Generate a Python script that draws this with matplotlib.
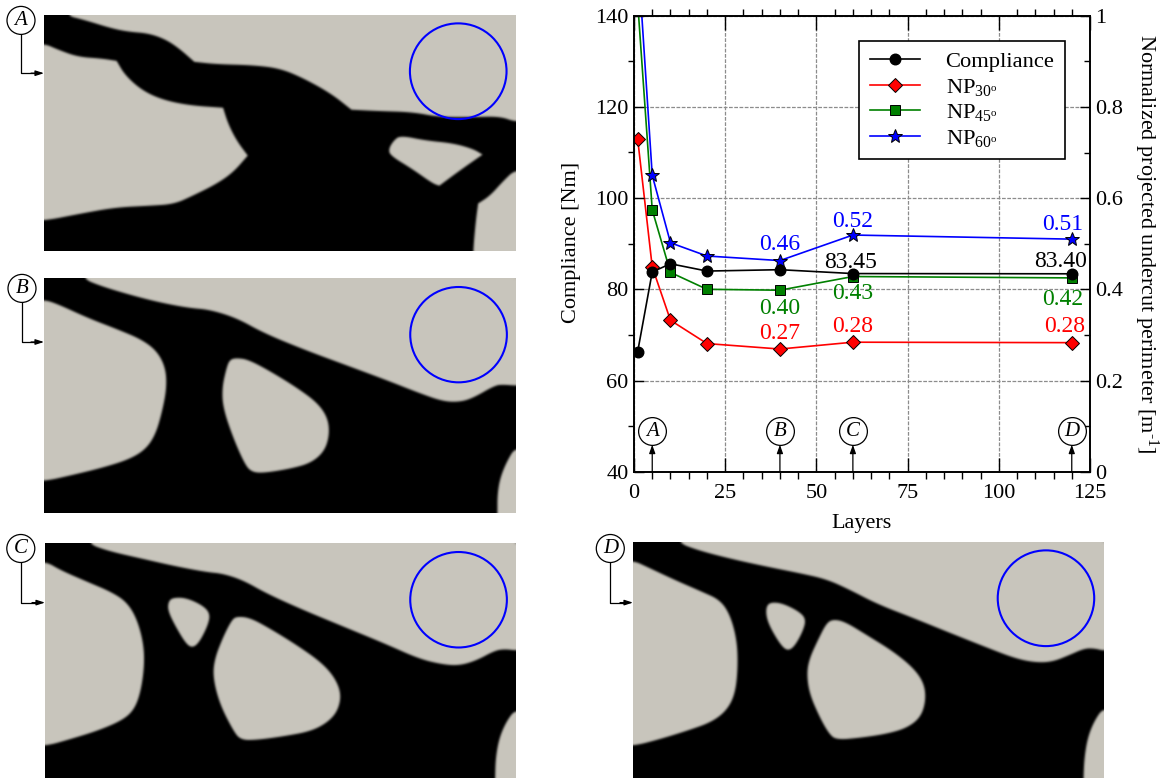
import numpy as np
import matplotlib
matplotlib.use("Agg")
import matplotlib.pyplot as plt
from matplotlib.backends.backend_agg import FigureCanvasAgg
from matplotlib.figure import Figure
from matplotlib.patches import Circle, Polygon

plt.rcParams['font.family'] = ['Liberation Serif', 'DejaVu Serif']
plt.rcParams['mathtext.fontset'] = 'custom'
plt.rcParams['mathtext.rm'] = 'Liberation Serif'
plt.rcParams['mathtext.it'] = 'Liberation Serif:italic'
plt.rcParams['mathtext.bf'] = 'Liberation Serif:bold'

# ---- chart data ----
layers = [1, 5, 10, 20, 40, 60, 120]
compliance = [66.3, 83.8, 85.6, 84.0, 84.3, 83.45, 83.40]
np30 = [0.73, 0.449, 0.332, 0.281, 0.269, 0.284, 0.283]
np45 = [1.03, 0.574, 0.437, 0.400, 0.398, 0.428, 0.425]
np60 = [1.14, 0.650, 0.502, 0.473, 0.463, 0.519, 0.510]
callout_x = [5, 40, 60, 120]
callout_names = ['A', 'B', 'C', 'D']

# text, colour, x, y (left axis units)
value_labels = [
    ('0.46', '#0000ff', 40, 89.9), ('0.52', '#0000ff', 60, 94.8), ('0.51', '#0000ff', 117.6, 94.2),
    ('83.45', 'black', 59.5, 85.8), ('83.40', 'black', 117, 86.2),
    ('0.40', '#008000', 40, 75.8), ('0.43', '#008000', 60, 79.1), ('0.42', '#008000', 117.6, 77.8),
    ('0.27', '#ff0000', 40, 70.3), ('0.28', '#ff0000', 60, 71.8), ('0.28', '#ff0000', 118, 71.8),
]

# ---- topology outlines (units of each panel's zoomed crop); repeated points keep corners sharp ----
a_top = [(190,45),(250,60),(330,85),(380,95),(440,100),(490,118),(530,145),(575,185),(575,185),(575,185),(640,192),(750,195),(830,205),(900,235),(980,280),(1040,328),(1040,328),(1040,328),(1120,332),(1220,335),(1300,350),(1400,350),(1480,348),(1527,365),(1620,365),(1620,-40),(190,-40)]
a_left = [(130,130),(170,148),(230,170),(300,175),(345,182),(345,182),(345,182),(370,225),(420,270),(480,298),(560,315),(660,322),(660,322),(660,322),(675,370),(700,420),(733,465),(733,465),(733,465),(690,515),(640,550),(570,585),(515,610),(440,615),(340,620),(230,640),(130,660),(40,660),(40,130)]
a_hole = [(1185,405),(1260,420),(1340,428),(1400,445),(1428,462),(1428,462),(1428,462),(1360,510),(1300,555),(1300,555),(1280,548),(1220,505),(1155,465),(1150,445),(1165,420)]
a_br = [(1527,505),(1490,540),(1450,585),(1415,608),(1415,608),(1408,660),(1400,750),(1400,820),(1620,820),(1620,505)]

b_top = [(240,40),(300,65),(400,95),(480,115),(560,130),(620,135),(700,160),(780,205),(900,255),(1020,300),(1140,345),(1240,385),(1310,410),(1360,412),(1400,400),(1465,362),(1490,360),(1527,363),(1620,363),(1620,-40),(240,-40)]
b_left = [(130,105),(170,118),(260,160),(350,195),(420,225),(465,260),(490,310),(493,370),(480,440),(460,510),(430,555),(380,585),(300,610),(210,632),(130,650),(40,650),(40,105)]
b_hole = [(700,280),(735,285),(800,320),(880,370),(940,415),(970,460),(975,510),(960,560),(920,595),(860,612),(780,625),(745,622),(725,600),(690,520),(660,430),(657,370),(670,310),(680,285)]
b_br = [(1527,545),(1500,590),(1480,640),(1472,690),(1472,745),(1472,820),(1620,820),(1620,545)]

c_top = [(255,38),(320,62),(420,85),(520,108),(610,125),(660,130),(720,150),(790,190),(900,240),(1020,290),(1140,340),(1240,385),(1310,402),(1360,405),(1410,390),(1465,360),(1495,356),(1527,360),(1620,360),(1620,-40),(255,-40)]
c_left = [(133,92),(180,120),(260,155),(330,185),(375,215),(405,265),(425,340),(427,410),(415,490),(395,540),(360,570),(290,600),(210,625),(133,647),(40,647),(40,92)]
c_small = [(510,202),(550,202),(600,225),(622,250),(615,285),(590,335),(570,352),(550,340),(515,280),(497,240),(498,215)]
c_big = [(700,258),(740,262),(800,295),(880,345),(950,395),(990,440),(1010,490),(1000,540),(970,575),(920,602),(840,617),(760,628),(712,628),(690,600),(650,520),(630,440),(635,385),(660,320),(685,270)]
c_br = [(1527,535),(1500,570),(1478,620),(1467,680),(1465,742),(1465,820),(1620,820),(1620,535)]

d_top = [(255,37),(320,62),(420,88),(520,110),(620,130),(700,148),(770,180),(850,222),(960,265),(1070,310),(1170,350),(1260,385),(1320,397),(1370,395),(1420,375),(1465,355),(1495,355),(1523,362),(1620,362),(1620,-40),(255,-40)]
d_left = [(127,92),(170,112),(250,150),(330,185),(385,210),(415,255),(435,330),(438,410),(430,490),(405,540),(360,575),(290,600),(210,625),(127,647),(40,647),(40,92)]
d_small = [(535,217),(570,220),(620,245),(640,268),(630,305),(605,350),(585,362),(565,345),(535,295),(522,260),(522,230)]
d_big = [(720,268),(755,275),(820,315),(900,365),(960,415),(990,460),(995,510),(980,560),(940,592),(880,610),(800,622),(730,628),(708,610),(680,560),(650,490),(642,430),(650,385),(675,330),(700,280)]
d_br = [(1523,530),(1495,570),(1475,620),(1465,680),(1462,742),(1462,820),(1620,820),(1620,530)]

# panel box in px (x0,x1,y0,y1), box in crop units, voids, circle centre (crop units), letter,
# callout centre (px), arrow y (px)
panels = [
    ((44, 516, 15, 251), (130,1527,45,750), [a_top,a_left,a_hole,a_br], (1356,213), 'A', (21,20.4), 73.2),
    ((44, 516, 278, 513), (130,1527,40,745), [b_top,b_left,b_hole,b_br], (1357,210), 'B', (22,288.4), 342),
    ((45, 516, 543, 778), (133,1527,38,742), [c_top,c_left,c_small,c_big,c_br], (1357,208), 'C', (20.8,548.5), 602.6),
    ((633, 1104, 542, 778), (127,1523,37,742), [d_top,d_left,d_small,d_big,d_br], (1351,205), 'D', (610.3,548.5), 602.6),
]
W, H = 1168, 778
GRAY = np.array([200, 197, 188]) / 255
BLUR = np.array([1, 3, 5, 3, 1], float) / 13


def chaikin(pts, n=3):
    p = np.asarray(pts, float)
    for _ in range(n):
        q = np.roll(p, -1, axis=0)
        p = np.column_stack([0.75*p + 0.25*q, 0.25*p + 0.75*q]).reshape(-1, 2)
    return p


def render_panel(box, voids, wpx, hpx):
    f = Figure(figsize=(wpx/100, hpx/100), dpi=100, facecolor='black')
    a = f.add_axes([0, 0, 1, 1])
    a.set_xlim(box[0], box[1]); a.set_ylim(box[3], box[2]); a.axis('off')
    for v in voids:
        a.add_patch(Polygon(chaikin(v), closed=True, fc='white', ec='none'))
    c = FigureCanvasAgg(f)
    c.draw()
    m = np.asarray(c.buffer_rgba())[..., 0] / 255.0
    pad = np.pad(m, 2, mode='edge')
    pad = np.apply_along_axis(lambda r: np.convolve(r, BLUR, mode='same'), 0, pad)
    pad = np.apply_along_axis(lambda r: np.convolve(r, BLUR, mode='same'), 1, pad)
    m = pad[2:-2, 2:-2]
    return m[..., None] * GRAY


fig = plt.figure(figsize=(W/100, H/100), dpi=100, facecolor='white')

overlay = fig.add_axes([0, 0, 1, 1], zorder=10)
overlay.set_xlim(0, W); overlay.set_ylim(H, 0); overlay.axis('off'); overlay.patch.set_alpha(0)

for pbox, box, voids, cc, name, lc, ay in panels:
    px0, px1, py0, py1 = pbox
    x0, x1, y0, y1 = box
    ap = fig.add_axes([px0/W, 1 - py1/H, (px1-px0)/W, (py1-py0)/H])
    ap.set_xlim(x0, x1); ap.set_ylim(y1, y0); ap.axis('off')
    ap.imshow(render_panel(box, voids, px1-px0, py1-py0), extent=(x0, x1, y1, y0),
              aspect='auto', interpolation='nearest')
    ap.set_xlim(x0, x1); ap.set_ylim(y1, y0)
    ap.add_patch(Circle(cc, 143, fill=False, ec='#0000ff', lw=1.5, zorder=5))
    cx, cy = lc
    overlay.plot([cx, cx, px0 - 8], [cy, ay, ay], color='black', lw=0.9)
    overlay.annotate('', xy=(px0, ay), xytext=(px0 - 13, ay),
                     arrowprops=dict(arrowstyle='-|>,head_length=0.5,head_width=0.16', color='black', lw=0.9,
                                     shrinkA=0, shrinkB=0))
    overlay.add_patch(Circle((cx, cy), 14, fc='white', ec='black', lw=0.9, zorder=6))
    overlay.text(cx, cy, name, style='italic', fontsize=15, ha='center', va='center', zorder=7)

# ---- chart ----
L, R, T, B = 634, 1090, 15.7, 471.7
ax2 = fig.add_axes([L/W, 1 - B/H, (R-L)/W, (B-T)/H], zorder=2)
ax = fig.add_axes([L/W, 1 - B/H, (R-L)/W, (B-T)/H], zorder=3)
ax.patch.set_alpha(0)
FS = 16

ax.set_xlim(0, 125); ax.set_ylim(40, 140)
ax2.set_xlim(0, 125); ax2.set_ylim(0, 1)

ax2.set_xticks(np.arange(0, 126, 25))
ax2.tick_params(axis='x', length=0, labelbottom=False)
ax2.set_yticks(np.arange(0, 1.01, 0.2))
ax2.set_yticklabels(['0', '0.2', '0.4', '0.6', '0.8', '1'])
ax2.set_yticks(np.arange(0.1, 1, 0.2), minor=True)
ax2.yaxis.tick_right()
ax2.tick_params(axis='y', which='major', direction='in', length=7, width=1, labelsize=FS, pad=4)
ax2.tick_params(axis='y', which='minor', direction='in', length=4, width=1)
ax2.grid(True, which='major', color='#8c8c8c', ls=(0, (3, 1.2)), lw=0.9)
ax2.set_axisbelow(True)

l30, = ax2.plot(layers, np30, '-D', color='#ff0000', lw=1.2, ms=7.5, mec='black', mew=0.7, label='NP$_{30^{\\mathrm{o}}}$')
l45, = ax2.plot(layers, np45, '-s', color='#008000', lw=1.2, ms=7.4, mec='black', mew=0.7, label='NP$_{45^{\\mathrm{o}}}$')
l60, = ax2.plot(layers, np60, '-*', color='#0000ff', lw=1.2, ms=10.5, mec='black', mew=0.7, label='NP$_{60^{\\mathrm{o}}}$')
l0, = ax.plot(layers, compliance, '-o', color='black', lw=1.2, ms=7.6, label='Compliance')

ax.set_xticks(np.arange(0, 126, 25))
ax.set_xticks(np.arange(0, 126, 5), minor=True)
ax.set_yticks(np.arange(40, 141, 20))
ax.set_yticks(np.arange(50, 140, 20), minor=True)
ax.tick_params(axis='both', which='major', direction='in', labelsize=FS, width=1)
ax.tick_params(axis='x', which='major', length=10, top=True, pad=9)
ax.tick_params(axis='x', which='minor', length=5, top=True, width=1)
ax.tick_params(axis='y', which='major', length=7, pad=4)
ax.tick_params(axis='y', which='minor', length=4, width=1)
for a in (ax, ax2):
    for s in a.spines.values():
        s.set_linewidth(1.2)

ax.set_xlabel('Layers', fontsize=FS, va='center')
ax.xaxis.set_label_coords(0.5, -0.113)
ax.set_ylabel('Compliance [Nm]', fontsize=16, va='center')
ax.yaxis.set_label_coords(-0.136, 0.503)
ax2.yaxis.set_label_position('right')
ax2.set_ylabel(r'Normalized projected undercut perimeter [m$^{\text{-}1}$]', fontsize=16, rotation=-90, va='center')
ax2.yaxis.set_label_coords(1.122, 0.5)

for txt, col, x, y in value_labels:
    ax.text(x, y, txt, color=col, fontsize=17, ha='center', va='center', zorder=6)

for x, name in zip(callout_x, callout_names):
    ax.annotate('', xy=(x, 45.9), xytext=(x, 40),
                arrowprops=dict(arrowstyle='-|>,head_length=0.5,head_width=0.18', color='black', lw=0.9,
                                shrinkA=0, shrinkB=0), zorder=6)
    ax.plot([x], [48.9], 'o', ms=20, mfc='white', mec='black', mew=0.9, zorder=7, clip_on=False)
    ax.text(x, 48.9, name, style='italic', fontsize=15, ha='center', va='center', zorder=8)

# ---- legend ----
leg = ax.legend(handles=[l0, l30, l45, l60], loc='upper left',
                bbox_to_anchor=((859-L)/(R-L), (B-41)/(B-T)), borderaxespad=0,
                fontsize=16.2, fancybox=False, framealpha=1, edgecolor='black',
                handlelength=2.23, handletextpad=1.15, labelspacing=0.2, borderpad=0.47)
leg.get_frame().set_linewidth(1.2)
leg.set_zorder(9)

fig.savefig('out.png', dpi=100)
